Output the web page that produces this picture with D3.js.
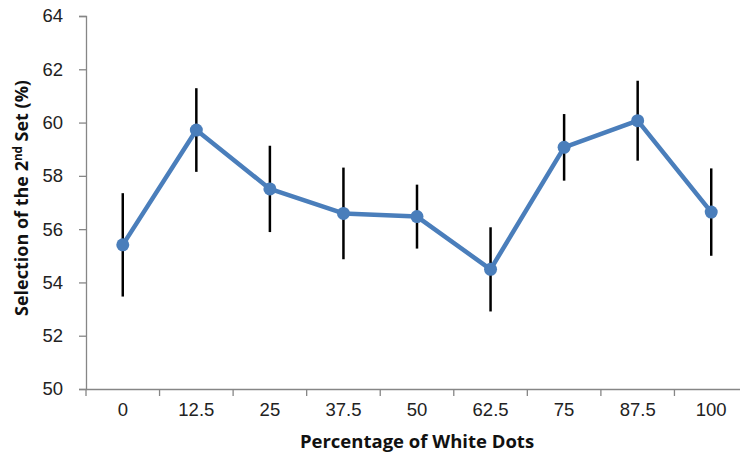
<!DOCTYPE html>
<html>
<head>
<meta charset="utf-8">
<script src="https://cdn.jsdelivr.net/npm/d3@7"></script>
<style>
  body { margin: 0; background: #fff; }
  svg { display: block; }
</style>
</head>
<body>
<div id="chart"></div>
<script>
// data
const categories = ['0', '12.5', '25', '37.5', '50', '62.5', '75', '87.5', '100'];
const selection = [55.41, 59.72, 57.51, 56.59, 56.47, 54.49, 59.07, 60.07, 56.64];
const errors = [1.94, 1.57, 1.62, 1.72, 1.2, 1.58, 1.25, 1.5, 1.64];
const yTicks = [50, 52, 54, 56, 58, 60, 62, 64];

const width = 740;
const height = 464;

const svg = d3.select('#chart').append('svg')
  .attr('width', width)
  .attr('height', height)
  .style('font-family', '"Open Sans", sans-serif');

// x axis runs past the right edge, as in the cropped original
const x = d3.scaleBand()
  .domain(categories)
  .range([86, 748]);

const y = d3.scaleLinear()
  .domain([50, 64])
  .range([389, 16]);

const axisColor = '#868686';

// y axis
const yAxis = svg.append('g')
  .attr('transform', 'translate(86,0)')
  .call(d3.axisLeft(y).tickValues(yTicks).tickSize(7).tickPadding(16));
yAxis.select('.domain').attr('stroke', axisColor).attr('stroke-width', 1.3);
yAxis.selectAll('.tick line').attr('stroke', axisColor).attr('stroke-width', 1.3);
yAxis.selectAll('.tick text')
  .attr('fill', '#222')
  .style('font-size', '18.5px');

// x axis: ticks on the band edges
const xAxis = svg.append('g')
  .attr('transform', 'translate(0,389)')
  .call(d3.axisBottom(x).tickSize(0).tickPadding(14));
xAxis.select('.domain').attr('stroke', axisColor).attr('stroke-width', 1.3);
xAxis.selectAll('.tick text')
  .attr('fill', '#222')
  .style('font-size', '18.5px');
xAxis.selectAll('.edge')
  .data(categories)
  .enter()
  .append('line')
  .attr('class', 'edge')
  .attr('x1', d => x(d))
  .attr('x2', d => x(d))
  .attr('y1', 0)
  .attr('y2', 7)
  .attr('stroke', axisColor)
  .attr('stroke-width', 1.3);

const cx = d => x(d) + x.bandwidth() / 2;

// error bars
svg.selectAll('.err')
  .data(categories)
  .enter()
  .append('line')
  .attr('class', 'err')
  .attr('x1', d => cx(d))
  .attr('x2', d => cx(d))
  .attr('y1', (d, i) => y(selection[i] + errors[i]))
  .attr('y2', (d, i) => y(selection[i] - errors[i]))
  .attr('stroke', '#000')
  .attr('stroke-width', 2.5);

// line
const line = d3.line()
  .x((d, i) => cx(categories[i]))
  .y(d => y(d));

svg.append('path')
  .datum(selection)
  .attr('fill', 'none')
  .attr('stroke', '#4a7ebb')
  .attr('stroke-width', 4.5)
  .attr('stroke-linejoin', 'round')
  .attr('d', line);

svg.selectAll('.point')
  .data(selection)
  .enter()
  .append('circle')
  .attr('class', 'point')
  .attr('cx', (d, i) => cx(categories[i]))
  .attr('cy', d => y(d))
  .attr('r', 6.5)
  .attr('fill', '#4a7ebb');

// axis titles
svg.append('text')
  .attr('x', 417)
  .attr('y', 448)
  .attr('text-anchor', 'middle')
  .style('font-size', '18.5px')
  .style('font-weight', 'bold')
  .attr('fill', '#111')
  .text('Percentage of White Dots');

const yTitle = svg.append('text')
  .attr('transform', 'translate(28,198) rotate(-90)')
  .attr('text-anchor', 'middle')
  .style('font-size', '18px')
  .style('font-weight', 'bold')
  .attr('fill', '#111');
yTitle.append('tspan').text('Selection of the 2');
yTitle.append('tspan').attr('dy', -6).style('font-size', '11.5px').text('nd');
yTitle.append('tspan').attr('dy', 6).text(' Set (%)');
</script>
</body>
</html>
